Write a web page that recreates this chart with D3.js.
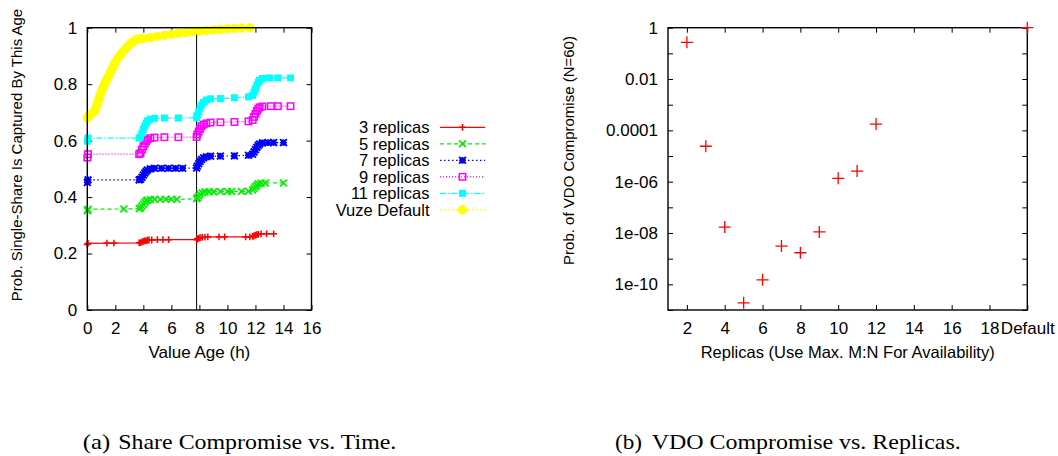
<!DOCTYPE html>
<html><head><meta charset="utf-8">
<script src="https://cdn.jsdelivr.net/npm/d3@7"></script>
<style>
body{margin:0;background:#fff;}
</style></head><body>
<svg id="c" width="1058" height="456"></svg>
<script>
// ---------- data: left chart (a) ----------
const seriesNames = ["3 replicas","5 replicas","7 replicas","9 replicas","11 replicas","Vuze Default"];
const rep3 = [[0,0.232],[0.05,0.236],[1.4,0.237],[1.9,0.237],[3.7,0.238],[3.8,0.239],[3.9,0.241],[4.0,0.243],[4.1,0.245],[4.2,0.246],[4.3,0.247],[4.4,0.248],[4.6,0.248],[5.0,0.249],[5.4,0.249],[5.8,0.249],[7.8,0.249],[7.85,0.252],[7.95,0.254],[8.05,0.256],[8.2,0.257],[8.4,0.258],[8.6,0.259],[9.4,0.259],[9.8,0.259],[11.3,0.259],[11.6,0.259],[11.8,0.261],[11.9,0.263],[12.0,0.265],[12.1,0.267],[12.2,0.268],[12.4,0.27],[12.8,0.27],[13.3,0.27]];
const rep5 = [[0,0.352],[0.05,0.357],[2.6,0.358],[3.7,0.359],[3.8,0.362],[3.9,0.368],[4.0,0.375],[4.1,0.381],[4.2,0.386],[4.3,0.389],[4.5,0.391],[4.8,0.392],[5.2,0.392],[5.6,0.392],[6.0,0.392],[6.4,0.392],[7.8,0.394],[7.85,0.398],[7.95,0.404],[8.05,0.41],[8.2,0.415],[8.4,0.418],[8.7,0.419],[9.0,0.419],[9.5,0.42],[10.0,0.42],[10.3,0.42],[11.0,0.42],[11.5,0.421],[11.8,0.425],[11.9,0.431],[12.0,0.437],[12.1,0.442],[12.2,0.447],[12.4,0.449],[12.7,0.45],[14.0,0.45]];
const rep7 = [[0,0.452],[0.05,0.461],[3.7,0.461],[3.8,0.463],[3.9,0.47],[4.0,0.478],[4.1,0.485],[4.2,0.491],[4.3,0.496],[4.5,0.5],[4.8,0.502],[5.3,0.502],[5.8,0.502],[6.3,0.502],[6.8,0.502],[7.8,0.503],[7.85,0.51],[7.95,0.518],[8.05,0.526],[8.15,0.533],[8.3,0.539],[8.5,0.543],[8.8,0.545],[9.5,0.545],[10.5,0.546],[11.5,0.548],[11.8,0.552],[11.9,0.56],[12.0,0.568],[12.1,0.576],[12.2,0.583],[12.3,0.588],[12.5,0.592],[12.9,0.593],[13.3,0.593],[14.0,0.593]];
const rep9 = [[0,0.54],[0.05,0.552],[3.7,0.552],[3.8,0.556],[3.9,0.568],[4.0,0.58],[4.1,0.59],[4.2,0.598],[4.3,0.604],[4.5,0.609],[4.8,0.611],[5.5,0.612],[6.5,0.612],[7.8,0.613],[7.85,0.622],[7.95,0.632],[8.05,0.642],[8.15,0.651],[8.3,0.657],[8.5,0.661],[8.8,0.664],[9.5,0.665],[10.5,0.666],[11.5,0.668],[11.8,0.673],[11.9,0.684],[12.0,0.695],[12.1,0.705],[12.2,0.713],[12.3,0.718],[12.5,0.721],[13.1,0.722],[13.6,0.722],[14.5,0.722]];
const rep11 = [[0,0.598],[0.05,0.609],[3.7,0.609],[3.8,0.613],[3.9,0.627],[4.0,0.64],[4.1,0.652],[4.2,0.662],[4.3,0.67],[4.5,0.676],[4.8,0.679],[5.5,0.68],[6.5,0.68],[7.8,0.681],[7.85,0.69],[7.95,0.703],[8.05,0.715],[8.15,0.726],[8.3,0.736],[8.5,0.744],[8.8,0.748],[9.5,0.749],[10.5,0.752],[11.5,0.755],[11.8,0.76],[11.9,0.772],[12.0,0.784],[12.1,0.796],[12.2,0.806],[12.3,0.814],[12.5,0.82],[13.0,0.822],[13.6,0.822],[14.5,0.822]];
const vuze = [[0,0.68],[0.1,0.69],[0.3,0.695],[0.5,0.703],[0.6,0.715],[0.7,0.73],[0.8,0.745],[0.9,0.76],[1.0,0.773],[1.1,0.785],[1.2,0.797],[1.3,0.808],[1.4,0.818],[1.5,0.828],[1.6,0.838],[1.7,0.848],[1.8,0.858],[1.9,0.868],[2.0,0.878],[2.2,0.893],[2.4,0.906],[2.6,0.918],[2.8,0.929],[3.0,0.939],[3.2,0.948],[3.4,0.956],[3.6,0.959],[3.8,0.961],[4.0,0.962],[4.5,0.965],[5.0,0.969],[5.5,0.973],[6.0,0.977],[6.5,0.98],[7.0,0.983],[7.5,0.986],[8.0,0.988],[8.5,0.99],[9.0,0.992],[9.5,0.994],[10.0,0.996],[10.5,0.997],[11.0,0.999],[11.6,1.0]];
const markAge = [7.8];
const xTicksA = [0,2,4,6,8,10,12,14,16];
const yTicksA = [0,0.2,0.4,0.6,0.8,1];

// ---------- data: right chart (b) ----------
const replicas = [2,3,4,5,6,7,8,9,10,11,12,20];
const vdoProb = [0.27,2.4e-5,1.7e-8,1.9e-11,1.5e-10,3.1e-9,1.7e-9,1.1e-8,1.35e-6,2.6e-6,1.75e-4,1];
const xTicksB = [2,4,6,8,10,12,14,16,18,20];
const xTickLabelsB = ["2","4","6","8","10","12","14","16","18","Default"];
const yTicksB = [1,1e-1,1e-2,1e-3,1e-4,1e-5,1e-6,1e-7,1e-8,1e-9,1e-10,1e-11];
const yTickLabelsB = {"0":"1","-2":"0.01","-4":"0.0001","-6":"1e-06","-8":"1e-08","-10":"1e-10"};

const captionTags = ["(a)","(b)"];
const captionTexts = ["Share Compromise vs. Time.","VDO Compromise vs. Replicas."];

// ---------- drawing ----------
const svg = d3.select("#c");
const SANS = '"Liberation Sans"';
const SERIF = '"Liberation Serif"';
const FS = 17;

function sans(sel){ return sel.style("font-family",SANS); }

// ===== chart (a) =====
const A = {l:87.3,r:311.5,t:27.7,b:310};
const xa = d3.scaleLinear().domain([0,16]).range([A.l,A.r]);
const ya = d3.scaleLinear().domain([0,1]).range([A.b,A.t]);
const ga = svg.append("g");

function styleAxis(g){
  g.select(".domain").remove();
  g.selectAll(".tick line").attr("stroke","#000").attr("stroke-width",1);
  g.selectAll(".tick text").attr("font-size",FS).attr("fill","#000").style("font-family",SANS);
}
ga.append("g").attr("transform",`translate(${A.l},0)`)
  .call(d3.axisLeft(ya).tickValues(yTicksA).tickSize(-5).tickPadding(10).tickFormat(d3.format("")))
  .call(styleAxis);
ga.append("g").attr("transform",`translate(${A.r},0)`)
  .call(d3.axisRight(ya).tickValues(yTicksA).tickSize(-5).tickFormat(""))
  .call(styleAxis);
ga.append("g").attr("transform",`translate(0,${A.b})`)
  .call(d3.axisBottom(xa).tickValues(xTicksA).tickSize(-5).tickPadding(12).tickFormat(d3.format("")))
  .call(styleAxis);
ga.append("g").attr("transform",`translate(0,${A.t})`)
  .call(d3.axisTop(xa).tickValues(xTicksA).tickSize(-5).tickFormat(""))
  .call(styleAxis);

// vertical reference line
ga.selectAll("line.mark").data(markAge).join("line")
  .attr("x1",d=>xa(d)).attr("x2",d=>xa(d)).attr("y1",A.t).attr("y2",A.b)
  .attr("stroke","#000").attr("stroke-width",1);

const styles = [
  {color:"#ff0000",dash:null,marker:"plus"},
  {color:"#00ee00",dash:"4,3",marker:"cross"},
  {color:"#0000ff",dash:"1.5,2.5",marker:"star"},
  {color:"#ff00ff",dash:"1,2",marker:"osquare"},
  {color:"#00ffff",dash:"6,2,1.5,2",marker:"fsquare"},
  {color:"#ffff00",dash:"1.5,2.5",marker:"fcircle"}
];
const allSeries = [rep3,rep5,rep7,rep9,rep11,vuze];
const line = d3.line().x(d=>xa(d[0])).y(d=>ya(d[1]));

function drawMarker(g,type,x,y,color){
  const s=3.4;
  if(type==="plus"){
    g.append("path").attr("d",`M${x-s},${y}H${x+s}M${x},${y-s}V${y+s}`).attr("stroke",color).attr("stroke-width",1.5).attr("fill","none");
  } else if(type==="cross"){
    g.append("path").attr("d",`M${x-s},${y-s}L${x+s},${y+s}M${x-s},${y+s}L${x+s},${y-s}`).attr("stroke",color).attr("stroke-width",1.7).attr("fill","none");
  } else if(type==="star"){
    g.append("path").attr("d",`M${x-s},${y}H${x+s}M${x},${y-s}V${y+s}M${x-s},${y-s}L${x+s},${y+s}M${x-s},${y+s}L${x+s},${y-s}`).attr("stroke",color).attr("stroke-width",1.9).attr("fill","none");
  } else if(type==="osquare"){
    g.append("rect").attr("x",x-3.2).attr("y",y-3.2).attr("width",6.4).attr("height",6.4).attr("stroke",color).attr("stroke-width",1.5).attr("fill","none");
  } else if(type==="fsquare"){
    g.append("rect").attr("x",x-3.5).attr("y",y-3.5).attr("width",7).attr("height",7).attr("fill",color);
  } else if(type==="fcircle"){
    g.append("circle").attr("cx",x).attr("cy",y).attr("r",4.3).attr("fill",color).attr("stroke",color).attr("stroke-width",0.8);
  }
}

allSeries.forEach((data,i)=>{
  const st = styles[i];
  const g = ga.append("g");
  g.append("path").datum(data).attr("d",line).attr("fill","none")
    .attr("stroke",st.color).attr("stroke-width",1.2)
    .attr("stroke-dasharray",st.dash);
  data.forEach(d=>drawMarker(g,st.marker,xa(d[0]),ya(d[1]),st.color));
});

// frame
ga.append("rect").attr("x",A.l).attr("y",A.t).attr("width",A.r-A.l).attr("height",A.b-A.t)
  .attr("fill","none").attr("stroke","#000").attr("stroke-width",1.4);

// legend
const legX = 429.5, legY0 = 133.3, legDy = 16.5;
seriesNames.forEach((name,i)=>{
  const st = styles[i];
  const y = legY0 + i*legDy;
  sans(ga.append("text")).attr("x",legX).attr("y",y).attr("text-anchor","end").attr("font-size",16.5).text(name);
  ga.append("line").attr("x1",440).attr("x2",485).attr("y1",y-6).attr("y2",y-6)
    .attr("stroke",st.color).attr("stroke-width",1.2).attr("stroke-dasharray",st.dash);
  drawMarker(ga,st.marker,462.5,y-6,st.color);
});

// axis labels
sans(ga.append("text")).attr("x",(A.l+A.r)/2).attr("y",358).attr("text-anchor","middle").attr("font-size",17).text("Value Age (h)");
sans(ga.append("text")).attr("transform","translate(22,155) rotate(-90)").attr("text-anchor","middle").attr("font-size",15).text("Prob. Single-Share Is Captured By This Age");

// ===== chart (b) =====
const B = {l:668,r:1027.3,t:27.7,b:310};
const xb = d3.scaleLinear().domain([1,20]).range([B.l,B.r]);
const yb = d3.scaleLog().domain([1e-11,1]).range([B.b,B.t]);
const gb = svg.append("g");
const fmtY = d=>{const e=Math.round(Math.log10(d)); return yTickLabelsB[String(e)]||"";};

gb.append("g").attr("transform",`translate(${B.l},0)`)
  .call(d3.axisLeft(yb).tickValues(yTicksB).tickSize(-5).tickPadding(10).tickFormat(fmtY))
  .call(styleAxis);
gb.append("g").attr("transform",`translate(${B.r},0)`)
  .call(d3.axisRight(yb).tickValues(yTicksB).tickSize(-5).tickFormat(""))
  .call(styleAxis);
gb.append("g").attr("transform",`translate(0,${B.b})`)
  .call(d3.axisBottom(xb).tickValues(xTicksB).tickSize(-5).tickPadding(12).tickFormat((d,i)=>xTickLabelsB[i]))
  .call(styleAxis);
gb.append("g").attr("transform",`translate(0,${B.t})`)
  .call(d3.axisTop(xb).tickValues(xTicksB).tickSize(-5).tickFormat(""))
  .call(styleAxis);
gb.append("rect").attr("x",B.l).attr("y",B.t).attr("width",B.r-B.l).attr("height",B.b-B.t)
  .attr("fill","none").attr("stroke","#000").attr("stroke-width",1.4);

const ptsB = replicas.map((r,i)=>[r,vdoProb[i]]);
gb.selectAll("path.pt").data(ptsB).join("path").attr("class","pt")
  .attr("d",d=>{const x=xb(d[0]),y=yb(d[1]),s=6;return `M${x-s},${y}H${x+s}M${x},${y-s}V${y+s}`;})
  .attr("stroke","#ff0000").attr("stroke-width",1.3).attr("fill","none");

sans(gb.append("text")).attr("x",(B.l+B.r)/2).attr("y",358).attr("text-anchor","middle").attr("font-size",16.5).text("Replicas (Use Max. M:N For Availability)");
sans(gb.append("text")).attr("transform","translate(574,150.5) rotate(-90)").attr("text-anchor","middle").attr("font-size",15).text("Prob. of VDO Compromise (N=60)");

// captions
const capLayout = [{tx:82.7,tw:27.5,x:118.3,w:278},{tx:615,tw:27,x:651.7,w:309}];
capLayout.forEach((c,i)=>{
  svg.append("text").style("font-family",SERIF).attr("x",c.tx).attr("y",449).attr("font-size",22)
    .attr("textLength",c.tw).attr("lengthAdjust","spacingAndGlyphs").text(captionTags[i]);
  svg.append("text").style("font-family",SERIF).attr("x",c.x).attr("y",449).attr("font-size",22)
    .attr("textLength",c.w).attr("lengthAdjust","spacingAndGlyphs").text(captionTexts[i]);
});
</script>
</body></html>
